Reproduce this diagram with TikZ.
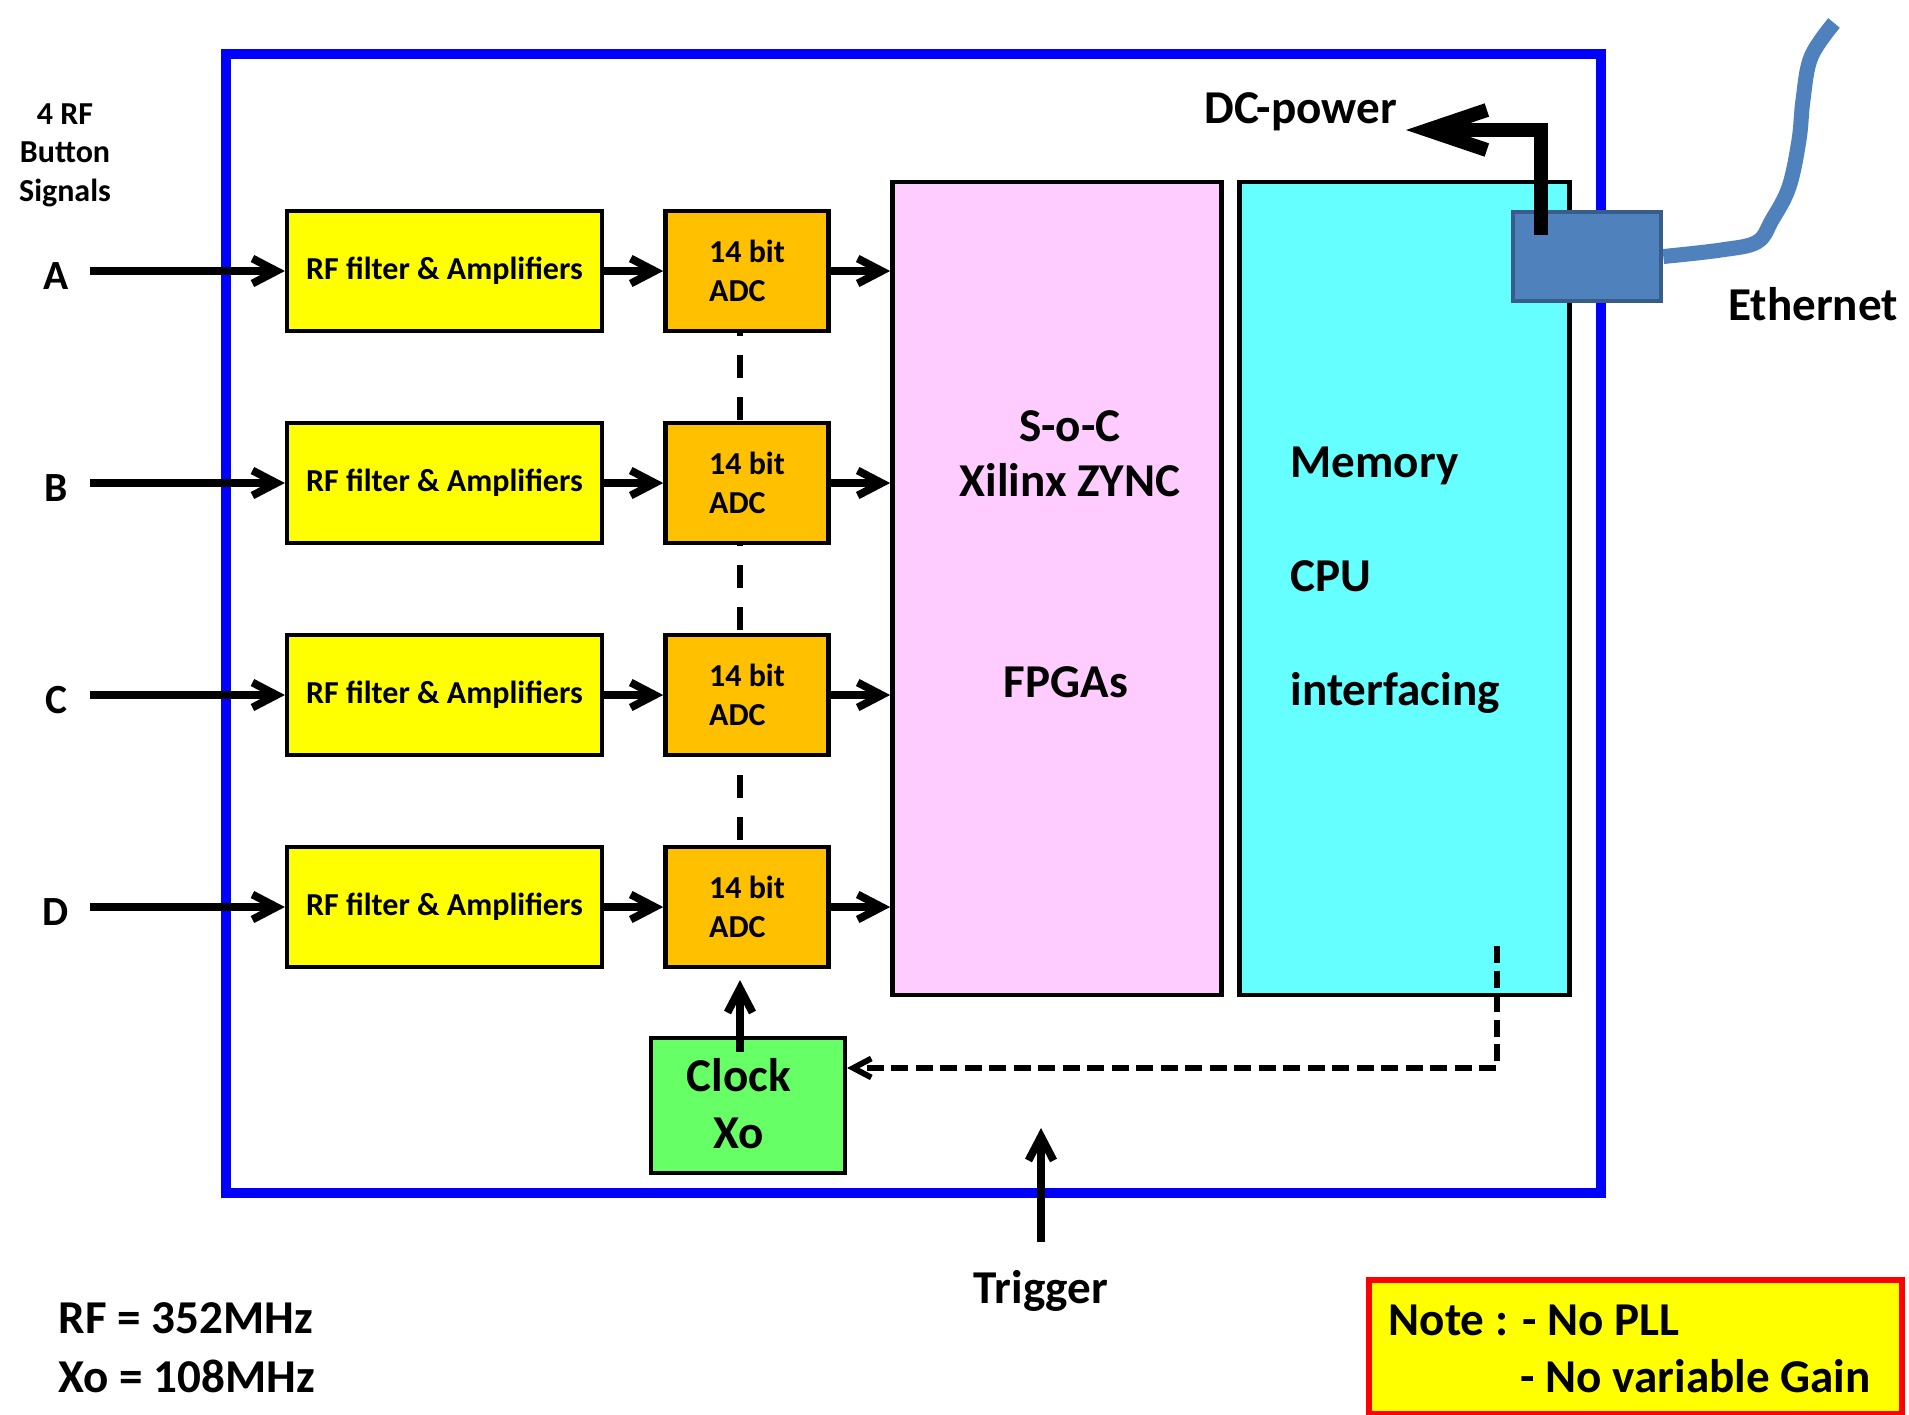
\documentclass[tikz,border=0pt]{standalone}
\usepackage{fontspec}
\setmainfont{Carlito}
\usetikzlibrary{arrows.meta,backgrounds}

\definecolor{rfyellow}{HTML}{FFFF00}
\definecolor{adcorange}{HTML}{FFC000}
\definecolor{socpink}{HTML}{FFCCFF}
\definecolor{cpucyan}{HTML}{66FFFF}
\definecolor{clkgreen}{HTML}{66FF66}
\definecolor{frameblue}{HTML}{0000FF}
\definecolor{ethblue}{HTML}{4F81BD}
\definecolor{ethedge}{HTML}{385D8A}

\tikzset{
  blk/.style={draw=black, line width=0.045cm, inner sep=0pt},
  rfblk/.style={blk, fill=rfyellow, minimum width=3.145cm, minimum height=1.195cm,
    font=\bfseries\fontsize{9.1}{10.5}\selectfont},
  adcblk/.style={blk, fill=adcorange, minimum width=1.63cm, minimum height=1.195cm,
    align=left, font=\bfseries\fontsize{9.1}{10.9}\selectfont},
  txt/.style={inner sep=0pt, font=\bfseries\fontsize{13.4}{15.9}\selectfont},
  sigarr/.style={-{Straight Barb[length=2.4mm,width=2.5mm]}, line width=0.078cm},
  ctlarr/.style={-{Straight Barb[length=1.8mm,width=1.9mm]}, line width=0.058cm,
    dash pattern=on 0.17cm off 0.075cm},
  adcdash/.style={line width=0.055cm, dash pattern=on 0.23cm off 0.19cm},
  pwrarr/.style={-{Straight Barb[length=5.9mm,width=4mm]}, line width=0.14cm},
  cable/.style={ethblue, line width=0.15cm},
}

\begin{document}
\begin{tikzpicture}[x=0.01cm, y=-0.01cm]
\useasboundingbox (0,0) rectangle (1909,1414);
% Outer frame
\node[draw=frameblue, line width=0.1cm, minimum width=13.75cm, minimum height=11.39cm, inner sep=0pt] (frame) at (913.5,623.5) {};
% SoC and CPU blocks
\node[blk, fill=socpink, minimum width=3.29cm, minimum height=8.125cm] (soc) at (1057,588.5) {};
\node[blk, fill=cpucyan, minimum width=3.3cm, minimum height=8.125cm] (cpu) at (1404.5,588.5) {};
\node[txt, align=center, anchor=south] (soctxt) at (1070,498) {S-o-C\\Xilinx ZYNC};
\node[txt, anchor=base] (fpga) at (1066,697) {FPGAs};
\node[txt, anchor=base west] (mem) at (1290,477) {Memory};
\node[txt, anchor=base west] (cpuname) at (1290,591) {CPU};
\node[txt, anchor=base west] (intf) at (1290,705) {interfacing};

% Input chains A..D
\foreach \chn/\y in {A/271,B/483,C/695,D/907}{
  \node[rfblk] (rf\chn) at (444.5,\y) {RF filter \& Amplifiers};
  \node[adcblk] (adc\chn) at (747,\y) {14 bit\\ADC};
  \node[txt, font=\bfseries\fontsize{11.8}{14}\selectfont] (lbl\chn) at (56,\y+5) {\chn};
  \coordinate (src\chn) at (90,\y);
  \draw[sigarr] (src\chn) -- (rf\chn.west);
  \draw[sigarr] (rf\chn.east) -- (adc\chn.west);
  \draw[sigarr] (adc\chn.east) -- (adc\chn.east -| soc.west);
}

% Ethernet connector and power
\node[draw=ethedge, fill=ethblue, line width=0.045cm, minimum width=1.48cm, minimum height=0.89cm, inner sep=0pt] (eth) at (1587,256.5) {};
\node[txt, anchor=base] (ethlbl) at (1813,320) {Ethernet};
\node[txt, anchor=base] (dclbl) at (1301,123) {DC-power};
\coordinate (dctip) at (1406,130);
\draw[pwrarr] ([xshift=-0.46cm,yshift=-0.25cm]eth.north) |- (dctip);

\begin{scope}[on background layer]
  % ADC sync line
  \draw[adcdash] ([xshift=-0.07cm]adcA.center) -- ([xshift=-0.07cm]adcD.center);
  % cable
  \draw[cable] plot[smooth, tension=0.6] coordinates {(eth.east) (1721,250) (1757,242) (1772,220) (1789,187) (1799,140) (1803,100) (1811,57) (1834,23)};
\end{scope}

% Clock
\node[blk, fill=clkgreen, minimum width=1.935cm, minimum height=1.345cm] (clk) at (748,1105.5) {};
\node[txt, align=center, font=\bfseries\fontsize{13.4}{16.2}\selectfont] (clktxt) at (739,1104) {Clock\\Xo};
\draw[sigarr] ([xshift=-0.08cm,yshift=-0.16cm]clk.north) -- ([xshift=-0.07cm,yshift=-0.11cm]adcD.south);
\coordinate (ctl) at (1497,946);
\draw[ctlarr] (ctl) |- ([yshift=0.375cm]clk.east);

% Trigger
\node[txt, anchor=base] (trg) at (1041,1303) {Trigger};
\coordinate (trgtip) at (1041,1128);
\draw[sigarr] ([yshift=0.27cm]trg.north) -- (trgtip);

% Notes
\node[txt, font=\bfseries\fontsize{9.1}{11}\selectfont, align=center] (inputs) at (65,155) {4 RF\\Button\\Signals};
\node[txt, anchor=base west] (rffreq) at (58,1333) {RF = 352MHz};
\node[txt, anchor=base west] (xofreq) at (58,1392) {Xo = 108MHz};
\node[draw=red, fill=rfyellow, line width=0.06cm, minimum width=5.33cm, minimum height=1.34cm, inner sep=0pt] (note) at (1635.5,1347) {};
\node[txt, anchor=base west] (note1) at (1388,1335) {Note : - No PLL};
\node[txt, anchor=base west] (note2) at (1520,1392) {- No variable Gain};
\end{tikzpicture}
\end{document}
